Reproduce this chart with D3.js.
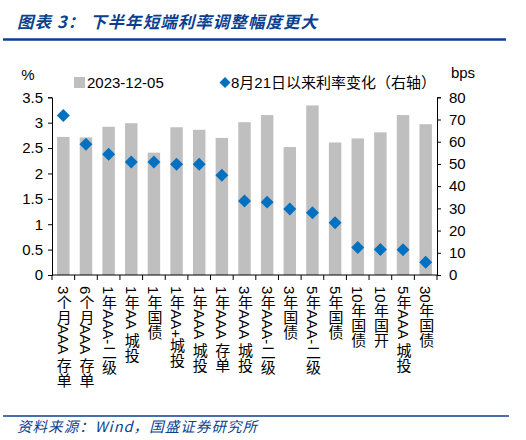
<!DOCTYPE html>
<html>
<head>
<meta charset="utf-8">
<script src="https://cdn.jsdelivr.net/npm/d3@7"></script>
<style>
  body { margin: 0; background: #fff; }
  svg { display: block; }
  text { font-family: "Liberation Sans", Arial, "Noto Sans CJK SC", sans-serif; fill: #000; }
  .cat { writing-mode: vertical-rl; text-orientation: mixed; }
</style>
</head>
<body>
<svg id="chart" width="526" height="440"></svg>
<script>
// data
const categories = ["3个月AAA 存单", "6个月AAA 存单", "1年AAA-二级", "1年AA 城投", "1年国债",
  "1年AA+城投", "1年AAA 城投", "1年AAA 存单", "3年AAA 城投", "3年AAA-二级", "3年国债",
  "5年AAA-二级", "5年国债", "10年国债", "10年国开", "5年AAA 城投", "30年国债"];
const rate20231205 = [2.72, 2.71, 2.92, 2.99, 2.41, 2.91, 2.86, 2.70, 3.01, 3.15, 2.52,
  3.34, 2.61, 2.69, 2.81, 3.15, 2.97];
const changeSinceAug21 = [71.8, 58.9, 54.4, 50.9, 50.9, 49.9, 49.9, 44.9, 33.3, 32.8, 29.7,
  28.0, 23.5, 12.4, 11.5, 11.4, 5.7];
const leftTicks = [0, 0.5, 1, 1.5, 2, 2.5, 3, 3.5];
const rightTicks = [0, 10, 20, 30, 40, 50, 60, 70, 80];

const svg = d3.select("#chart");
const plotLeft = 52, plotRight = 437, plotTop = 97.3, plotBottom = 275;
const blue = "#0070c0";
const navy = "#0b3f8f";

const x = d3.scaleBand().domain(categories).range([plotLeft, plotRight])
    .paddingInner(0.45).paddingOuter(0.225);
const yL = d3.scaleLinear().domain([0, 3.5]).range([plotBottom, plotTop]);
const yR = d3.scaleLinear().domain([0, 80]).range([plotBottom, plotTop]);

// title + rules
svg.append("text")
    .attr("x", 17).attr("y", 28)
    .style("font-family", "'Noto Sans CJK SC', sans-serif")
    .style("font-size", "16.5px").style("font-weight", "bold").style("font-style", "italic")
    .style("fill", navy)
    .attr("textLength", 300).attr("lengthAdjust", "spacing")
    .text("图表 3：  下半年短端利率调整幅度更大");
svg.append("line").attr("x1", 3).attr("x2", 506).attr("y1", 39.5).attr("y2", 39.5)
    .attr("stroke", navy).attr("stroke-width", 2.5);
svg.append("line").attr("x1", 3).attr("x2", 509).attr("y1", 416).attr("y2", 416)
    .attr("stroke", navy).attr("stroke-width", 1.5);
svg.append("text")
    .attr("x", 17).attr("y", 432)
    .style("font-family", "'Noto Sans CJK SC', sans-serif")
    .style("font-size", "14.5px").style("font-style", "italic")
    .style("fill", navy)
    .attr("textLength", 240).attr("lengthAdjust", "spacing")
    .text("资料来源：Wind，国盛证券研究所");

// bars
svg.append("g").selectAll("rect")
    .data(rate20231205)
    .join("rect")
    .attr("x", (d, i) => x(categories[i]))
    .attr("width", x.bandwidth())
    .attr("y", d => yL(d))
    .attr("height", d => plotBottom - yL(d))
    .attr("fill", "#bfbfbf");

// diamonds
const diamond = d3.symbol().type(d3.symbolSquare).size(84);
svg.append("g").selectAll("path")
    .data(changeSinceAug21)
    .join("path")
    .attr("d", diamond)
    .attr("transform", (d, i) => "translate(" + (x(categories[i]) + x.bandwidth() / 2) + "," + yR(d) + ") rotate(45)")
    .attr("fill", blue);

// axes
const axisL = svg.append("g").attr("transform", "translate(" + plotLeft + ",0)")
    .call(d3.axisLeft(yL).tickValues(leftTicks).tickSize(4).tickPadding(5).tickFormat(d3.format("~g")));
const axisR = svg.append("g").attr("transform", "translate(" + plotRight + ",0)")
    .call(d3.axisRight(yR).tickValues(rightTicks).tickSize(4).tickPadding(8));
[axisL, axisR].forEach(g => {
  g.select(".domain").attr("stroke", "#000");
  g.selectAll(".tick line").attr("stroke", "#000");
  g.selectAll(".tick text").style("font-size", "15px").attr("fill", "#000")
    .style("font-family", "'Liberation Sans', Arial, sans-serif");
});

// x axis
svg.append("line").attr("x1", plotLeft).attr("x2", plotRight).attr("y1", plotBottom).attr("y2", plotBottom)
    .attr("stroke", "#000");
svg.append("g").selectAll("line")
    .data(d3.range(categories.length + 1))
    .join("line")
    .attr("x1", i => plotLeft + i * x.step())
    .attr("x2", i => plotLeft + i * x.step())
    .attr("y1", plotBottom).attr("y2", plotBottom + 5)
    .attr("stroke", "#000");

svg.append("g").selectAll("text")
    .data(categories)
    .join("text")
    .attr("class", "cat")
    .attr("x", d => x(d) + x.bandwidth() / 2)
    .attr("y", 286)
    .style("font-size", "15px")
    .text(d => d);

// units
svg.append("text").attr("x", 28).attr("y", 80).attr("text-anchor", "middle")
    .style("font-size", "15px").text("%");
svg.append("text").attr("x", 463).attr("y", 78).attr("text-anchor", "middle")
    .style("font-size", "15px").text("bps");

// legend
svg.append("rect").attr("x", 74).attr("y", 77).attr("width", 11).attr("height", 11).attr("fill", "#bfbfbf");
svg.append("text").attr("x", 87).attr("y", 88).style("font-size", "15px").text("2023-12-05");
svg.append("path").attr("d", d3.symbol().type(d3.symbolSquare).size(60))
    .attr("transform", "translate(225,82.5) rotate(45)").attr("fill", blue);
svg.append("text").attr("x", 231).attr("y", 88).style("font-size", "15px")
    .text("8月21日以来利率变化（右轴）");
</script>
</body>
</html>
